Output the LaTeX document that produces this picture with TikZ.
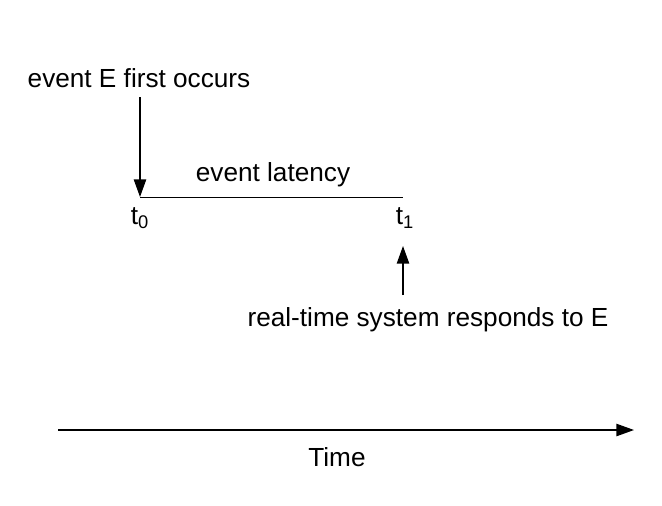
\documentclass[tikz,border=0pt]{standalone}
\usepackage{fontspec}
\setmainfont{Liberation Sans}
\usetikzlibrary{positioning, arrows.meta}
\begin{document}
\begin{tikzpicture}[x=0.02cm, y=-0.02cm, font=\fontsize{14.9}{18}\selectfont]
            \tikzstyle{lbl} = [inner sep=0pt]
            \tikzstyle{arr} = [thick, -{Triangle[length=10pt, width=7pt]}]
            \useasboundingbox (0,0) rectangle (662,505);

            % Event and response
            \node[lbl] (occurs) at (139,78) {event E first occurs};
            \coordinate (t0pt) at (140,197);
            \coordinate (t1pt) at (403,197);
            \node[lbl] (latency) at (273,175) {event latency};
            \node[lbl] (t0) at (140,218) {t\textsubscript{0}};
            \node[lbl] (t1) at (405,218) {t\textsubscript{1}};
            \node[lbl] (responds) at (428,320) {real-time system responds to E};
            \coordinate (respbase) at (403,295);
            \coordinate (resptip) at (403,246);

            % Time axis
            \coordinate (tstart) at (58,430);
            \coordinate (tend) at (634,430);
            \node[lbl] (time) at (337,457) {Time};

            % Arrows
            \draw[arr] (140,97) -- (t0pt);
            \draw (t0pt) -- (t1pt);
            \draw[arr] (respbase) -- (resptip);
            \draw[arr] (tstart) -- (tend);
        \end{tikzpicture}
\end{document}
